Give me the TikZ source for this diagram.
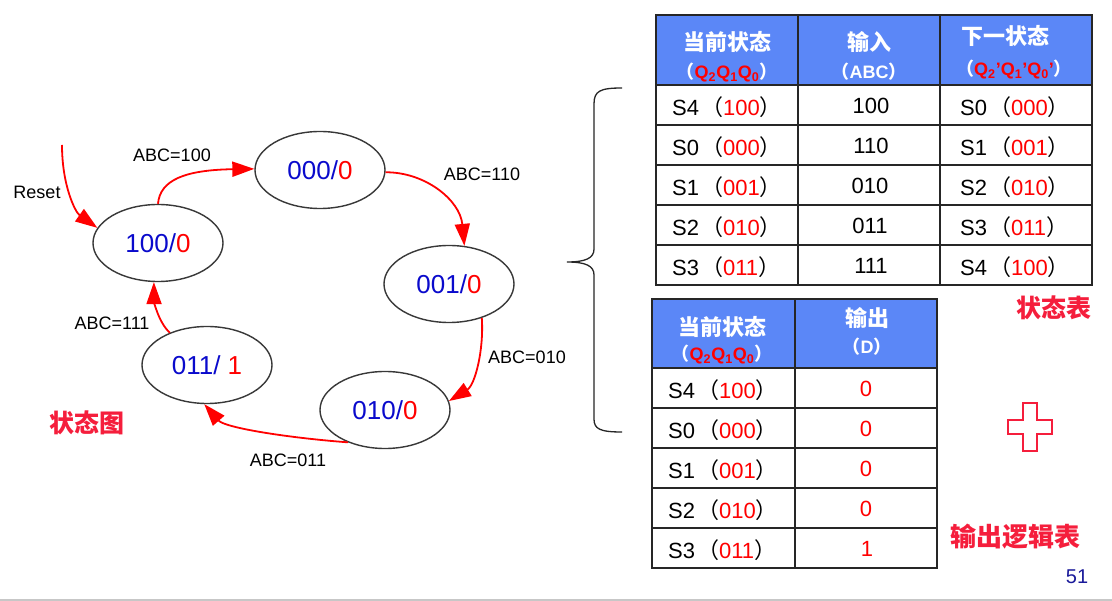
\documentclass[tikz,border=0pt]{standalone}
\usepackage{fontspec}
\setmainfont{Liberation Sans}
\newfontfamily\cjk{Noto Sans CJK SC}
\usetikzlibrary{arrows.meta,shapes.geometric}
\definecolor{hdr}{HTML}{5B87F7}
\definecolor{sblue}{HTML}{0A0ACC}
\definecolor{lred}{HTML}{F51E3C}
\definecolor{pnum}{HTML}{1A1A9A}
\newcommand\fs[1]{\fontsize{#1}{#1}\selectfont}
\newcommand\zlp{{\cjk （}}
\newcommand\zrp{{\cjk ）}}
\newcommand\st[2]{{\color{sblue}#1}{\color{red}#2}}
\newcommand\rc[2]{#1\hspace{2pt}\zlp{\color{red}#2}\zrp}
\begin{document}
\begin{tikzpicture}[x=1pt,y=-1pt,
  stnode/.style={draw=black!78, line width=1.4pt, ellipse, minimum width=130pt, minimum height=77pt, inner sep=0pt, font=\fs{26}},
  tr/.style={red, line width=1.8pt, -{Triangle[length=22pt,width=15pt]}},
  lab/.style={font=\fs{18}, inner sep=0pt},
  zhlab/.style={font=\cjk\bfseries\fs{25}, text=lred, inner sep=0pt},
  tbl/.style={draw=black!85, line width=1.6pt},
  hd/.style={font=\cjk\bfseries\fs{22}, text=white, inner sep=0pt},
  hds/.style={font=\bfseries\fs{18}, text=white, inner sep=0pt},
  cellL/.style={font=\fs{22}, anchor=west, inner sep=0pt},
  cellC/.style={font=\fs{22}, inner sep=0pt}
]
\useasboundingbox (0,0) rectangle (1112,601);
\fill[white] (0,0) rectangle (1112,601);
\fill[black!22] (0,598.5) rectangle (1112,601);

% state diagram
\node[stnode] (e100) at (158,243) {\st{100/}{0}};
\node[stnode] (e000) at (320,170) {\st{000/}{0}};
\node[stnode] (e001) at (449,284) {\st{001/}{0}};
\node[stnode] (e010) at (385,410) {\st{010/}{0}};
\node[stnode] (e011) at (207,365) {\st{011/\ }{1}};

\coordinate (rst) at (62,145);
\draw[tr] (rst) .. controls (62,185) and (75,212) .. (e100.166);
\draw[tr] (e100.90) .. controls (160,180) and (185,170) .. (e000.179);
\draw[tr] (e000.358) .. controls (425,172) and (460,200) .. (e001.68);
\draw[tr] (e001.-46) .. controls (484,350) and (475,385) .. (e010.8);
\draw[tr] (e010.221) .. controls (290,438) and (225,428) .. (e011.266);
\draw[tr] (e011.139) .. controls (158,322) and (154,300) .. (e100.264);

\node[lab] (lreset) at (37,192) {Reset};
\node[lab] (l100) at (172,155) {ABC=100};
\node[lab] (l110) at (482,174) {ABC=110};
\node[lab] (l010) at (527,357) {ABC=010};
\node[lab] (l011) at (288,460) {ABC=011};
\node[lab] (l111) at (112,323) {ABC=111};
\node[zhlab] (ztt) at (87,423) {状态图};

% brace
\draw[black!85, line width=1.3pt] (622,88) .. controls (600,88) and (594,91) .. (594,104) -- (594,249)
  .. controls (594,258) and (586,262) .. (567,262)
  .. controls (586,262) and (594,266) .. (594,275) -- (594,419)
  .. controls (594,429) and (600,432) .. (622,432);

% table 1
\fill[hdr] (656,15) rectangle (1092,85);
\draw[tbl] (656,15) rectangle (1092,285);
\foreach \xx in {798,940} \draw[tbl] (\xx,15) -- (\xx,285);
\foreach \yy in {85,125,165,205,245} \draw[tbl] (656,\yy) -- (1092,\yy);
\node[hd] (h1a) at (727,42) {当前状态};
\node[hds] (h1b) at (727,73) {\zlp{\color{red}Q\textsubscript{2}Q\textsubscript{1}Q\textsubscript{0}}\zrp};
\node[hd] (h2a) at (869,42) {输入};
\node[hds] (h2b) at (869,72) {\zlp ABC\zrp};
\node[hd] (h3a) at (1005,36) {下一状态};
\node[hds] (h3b) at (1014,70) {\zlp{\color{red}Q\textsubscript{2}'Q\textsubscript{1}'Q\textsubscript{0}'}\zrp};

\node[cellL] (a1) at (672,107) {\rc{S4}{100}};
\node[cellL] (a2) at (672,147) {\rc{S0}{000}};
\node[cellL] (a3) at (672,187) {\rc{S1}{001}};
\node[cellL] (a4) at (672,227) {\rc{S2}{010}};
\node[cellL] (a5) at (672,267) {\rc{S3}{011}};
\node[cellC] (b1) at (871,106) {100};
\node[cellC] (b2) at (871,146) {110};
\node[cellC] (b3) at (870,186) {010};
\node[cellC] (b4) at (870,226) {011};
\node[cellC] (b5) at (871,266) {111};
\node[cellL] (c1) at (960,107) {\rc{S0}{000}};
\node[cellL] (c2) at (960,147) {\rc{S1}{001}};
\node[cellL] (c3) at (960,187) {\rc{S2}{010}};
\node[cellL] (c4) at (960,227) {\rc{S3}{011}};
\node[cellL] (c5) at (960,267) {\rc{S4}{100}};

% table 2
\fill[hdr] (652,299) rectangle (937,368);
\draw[tbl] (652,299) rectangle (937,568);
\draw[tbl] (795,299) -- (795,568);
\foreach \yy in {368,408,448,488,528} \draw[tbl] (652,\yy) -- (937,\yy);
\node[hd] (k1a) at (722,327) {当前状态};
\node[hds] (k1b) at (722,355) {\zlp{\color{red}Q\textsubscript{2}Q\textsubscript{1}Q\textsubscript{0}}\zrp};
\node[hd] (k2a) at (867,318) {输出};
\node[hds] (k2b) at (867,347) {\zlp D\zrp};

\node[cellL] (d1) at (668,390) {\rc{S4}{100}};
\node[cellL] (d2) at (668,430) {\rc{S0}{000}};
\node[cellL] (d3) at (668,470) {\rc{S1}{001}};
\node[cellL] (d4) at (668,510) {\rc{S2}{010}};
\node[cellL] (d5) at (668,550) {\rc{S3}{011}};
\node[cellC, text=red] (o1) at (866,389) {0};
\node[cellC, text=red] (o2) at (866,429) {0};
\node[cellC, text=red] (o3) at (866,469) {0};
\node[cellC, text=red] (o4) at (866,509) {0};
\node[cellC, text=red] (o5) at (867,549) {1};

% labels right
\node[zhlab] (ztb) at (1054,308) {状态表};
\node[zhlab, font=\cjk\bfseries\fs{26}] (zsc) at (1015,537) {输出逻辑表};
\draw[lred, line width=1.1pt] (1023,403) -- (1037,403) -- (1037,420) -- (1052,420) -- (1052,434) -- (1037,434) -- (1037,451) -- (1023,451) -- (1023,434) -- (1008,434) -- (1008,420) -- (1023,420) -- cycle;
\node[font=\fs{20}, text=pnum, inner sep=0pt] (pg) at (1077,577) {51};
\end{tikzpicture}
\end{document}
